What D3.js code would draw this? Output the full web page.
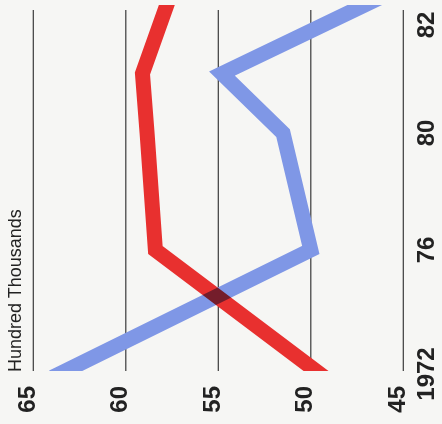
<!DOCTYPE html>
<html>
<head>
<meta charset="utf-8">
<script src="https://cdn.jsdelivr.net/npm/d3@7"></script>
<style>
  html, body { margin: 0; padding: 0; background: #f6f6f4; }
  svg { display: block; }
</style>
</head>
<body>
<script>
// ---- data ----
const years = [1972, 1976, 1980, 1981.1, 1982.45];
const blueSeries = [63.6, 50.0, 51.5, 54.8, 46.6];
const redSeries  = [49.5, 58.4, 58.85, 59.1, 57.7];
const valueTicks = [65, 60, 55, 50, 45];
const yearTicks = [1972, 1976, 1980, 1982];
const yearTickLabels = ["1972", "76", "80", "82"];
const unitLabel = "Hundred Thousands";

const W = 442, H = 424;
const font = "'Liberation Sans', Arial, Helvetica, sans-serif";

const svg = d3.select("body").append("svg")
  .attr("width", W).attr("height", H);

svg.append("rect").attr("width", W).attr("height", H).attr("fill", "#f6f6f4");

// value axis runs horizontally (chart rotated), 65 on the left
const x = d3.scaleLinear().domain([65, 45]).range([33.3, 403.3]);
// year axis runs vertically, 1972 at the bottom (hand-drawn spacing)
const y = d3.scaleLinear().domain([1972, 1976, 1980, 1982]).range([374, 250, 133, 25]);

const gridTop = 10, gridBottom = 371;

// grid lines
svg.append("g").selectAll("line").data(valueTicks).join("line")
  .attr("x1", d => x(d)).attr("x2", d => x(d))
  .attr("y1", gridTop).attr("y2", gridBottom)
  .attr("stroke", "#3a3a3a").attr("stroke-width", 1.2);

// clip for the thick lines
svg.append("clipPath").attr("id", "clip")
  .append("rect").attr("x", 0).attr("y", 5).attr("width", W).attr("height", gridBottom - 5);

const line = d3.line().x(d => x(d[1])).y(d => y(d[0]));

const lines = svg.append("g").attr("clip-path", "url(#clip)").style("isolation", "isolate");
lines.append("path")
  .datum(years.map((yr, i) => [yr, blueSeries[i]]))
  .attr("d", line)
  .attr("fill", "none").attr("stroke", "#7f97e6").attr("stroke-width", 15)
  .attr("stroke-linejoin", "miter").attr("stroke-miterlimit", 10).attr("stroke-linecap", "square")
  .style("mix-blend-mode", "multiply");
lines.append("path")
  .datum(years.map((yr, i) => [yr, redSeries[i]]))
  .attr("d", line)
  .attr("fill", "none").attr("stroke", "#e8302f").attr("stroke-width", 15)
  .attr("stroke-linejoin", "miter").attr("stroke-miterlimit", 10).attr("stroke-linecap", "square")
  .style("mix-blend-mode", "multiply");

// value tick labels (rotated)
svg.append("g").selectAll("text").data(valueTicks).join("text")
  .attr("transform", d => `translate(${x(d) + 1.5},386) rotate(-90)`)
  .attr("text-anchor", "end")
  .attr("font-family", font).attr("font-weight", "bold").attr("font-size", 24)
  .attr("fill", "#222")
  .text(d => d);

// year tick labels (rotated)
svg.append("g").selectAll("text").data(yearTicks).join("text")
  .attr("transform", d => `translate(434,${y(d)}) rotate(-90)`)
  .attr("text-anchor", "middle")
  .attr("font-family", font).attr("font-weight", "bold").attr("font-size", 24)
  .attr("fill", "#222")
  .text((d, i) => yearTickLabels[i]);

// unit label
svg.append("text")
  .attr("transform", "translate(21,372) rotate(-90)")
  .attr("text-anchor", "start")
  .attr("font-family", font).attr("font-size", 18)
  .attr("fill", "#222")
  .text(unitLabel);
</script>
</body>
</html>
